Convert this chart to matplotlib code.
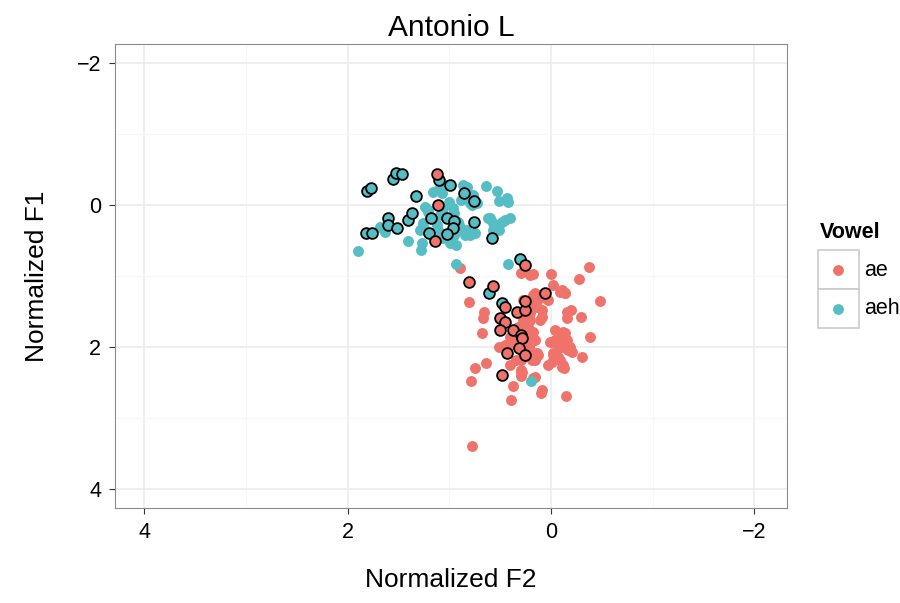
import numpy as np
import matplotlib
matplotlib.use("Agg")
import matplotlib.pyplot as plt
from matplotlib.lines import Line2D
from matplotlib.patches import Rectangle

plt.rcParams["font.family"] = ["Liberation Sans", "DejaVu Sans"]

# vowel tokens, normalized formants (F2, F1)
ae_f2 = [0.90, 0.30, 0.21, 0.81, 0.66, 0.67, 0.28, 0.18, 0.00, -0.37, -0.27, -0.02,
         -0.11, -0.14, 0.16, 0.11, 0.03, 0.18, -0.48, -0.16, -0.20, -0.16, -0.29, 0.09,
         0.68, 0.51, 0.75, 0.64, 0.79, 0.30, 0.30, 0.16, 0.38, 0.39, 0.10, -0.15,
         -0.04, -0.12, -0.38, 0.01, -0.04, -0.16, -0.19, -0.09, -0.21, -0.02, -0.01,
         -0.09, -0.12, 0.03, -0.30, 0.19, 0.21, 0.30, 0.09, 0.78, 0.21, 0.23, 0.16,
         0.26, 0.35, 0.13, 0.40, 0.45, 0.11, -0.13,
         0.18, 0.14, 0.21, 0.28, 0.23, 0.18, 0.24, 0.21, 0.35, 0.40, 0.40, 0.28,
         0.14, 0.16, 0.30, 0.29, 0.18, 0.09, 0.33, 0.30, -0.09, -0.14, -0.01, -0.06,
         -0.11, -0.17, -0.02, -0.07, -0.11, -0.09, -0.14]
ae_f1 = [0.89, 0.96, 0.99, 1.37, 1.51, 1.59, 1.34, 0.97, 0.97, 0.87, 1.04, 1.13,
         1.20, 1.24, 1.24, 1.31, 1.34, 1.38, 1.35, 1.51, 1.48, 1.59, 1.58, 1.58,
         1.81, 2.00, 2.30, 2.23, 2.48, 2.36, 2.41, 2.43, 2.55, 2.75, 2.65, 2.69,
         1.76, 1.79, 1.86, 1.93, 1.90, 1.90, 2.00, 2.00, 2.07, 2.09, 2.21,
         2.19, 2.26, 2.26, 2.14, 2.19, 2.05, 2.33, 2.60, 3.40, 1.62, 1.76, 1.90,
         1.97, 2.19, 2.12, 2.26, 1.97, 1.62, 2.30,
         1.27, 1.44, 1.52, 1.62, 1.72, 1.79, 1.86, 1.95, 1.88, 1.86, 1.97, 2.09,
         2.09, 2.19, 2.19, 2.36, 2.44, 1.48, 1.72, 1.52, 1.83, 1.81, 1.93, 1.95,
         2.00, 2.05, 2.12, 2.14, 2.28, 1.23, 1.24]

aeh_f2 = [1.90, 1.68, 1.63, 1.41, 1.28, 1.16, 1.11, 1.24, 1.21, 1.26, 1.24, 1.12,
          1.11, 1.06, 1.04, 1.00, 0.97, 0.96, 0.83, 0.77, 0.73, 0.78, 0.64, 0.53,
          0.51, 0.43, 0.42, 0.62, 0.57, 0.48, 0.40, 0.51, 0.83, 0.80, 0.75, 0.85,
          0.96, 0.94, 0.94, 0.42, 0.20, 0.89, 1.09, 0.91,
          1.07, 0.87, 0.80, 1.21, 1.07, 1.29, 1.12, 1.06, 0.99, 0.87, 0.60, 0.45,
          0.57, 0.92, 1.27]
aeh_f1 = [0.65, 0.31, 0.38, 0.51, 0.63, -0.18, -0.21, 0.03, 0.07, 0.25, 0.35, 0.28,
          0.35, 0.04, -0.28, -0.04, 0.04, 0.11, -0.25, -0.14, -0.03, 0.00, -0.27, -0.20,
          -0.06, -0.10, -0.04, 0.18, 0.25, 0.24, 0.18, 0.35, 0.35, 0.42, 0.39, 0.42,
          0.42, 0.56, 0.83, 0.83, 2.48, -0.07, 0.14, 0.28,
          -0.17, -0.28, -0.03, 0.10, 0.11, 0.35, 0.42, 0.47, 0.54, 0.35, 0.18, 0.21,
          0.35, 0.24, 0.54]

# highlighted tokens (black outline)
ae_mark_f2 = [1.12, 1.11, 1.14, 0.26, 0.81, 0.57, 0.45, 0.34, 0.26, 0.06, 0.50,
              0.45, 0.50, 0.38, 0.30, 0.29, 0.43, 0.32, 0.26, 0.26, 0.48]
ae_mark_f1 = [-0.44, 0.00, 0.51, 0.85, 1.09, 1.14, 1.44, 1.51, 1.48, 1.24, 1.59,
              1.65, 1.76, 1.76, 1.83, 1.88, 2.09, 2.02, 2.12, 1.35, 2.40]

aeh_mark_f2 = [1.81, 1.77, 1.56, 1.53, 1.47, 1.33, 1.10, 0.99, 0.86, 0.76, 1.60,
               1.60, 1.52, 1.82, 1.76, 1.41, 1.37, 1.18, 1.20, 1.02, 0.96, 0.97,
               1.02, 0.76, 0.58, 0.31, 0.61, 0.48]
aeh_mark_f1 = [-0.20, -0.24, -0.37, -0.45, -0.44, -0.13, -0.35, -0.28, -0.17, -0.06, 0.18,
               0.28, 0.32, 0.39, 0.39, 0.21, 0.11, 0.18, 0.39, 0.18, 0.23, 0.32,
               0.41, 0.24, 0.47, 0.76, 1.24, 1.38]

vowels = ["ae", "aeh"]
colors = {"ae": "#F0736B", "aeh": "#55BEC4"}

fig = plt.figure(figsize=(9, 6.03), dpi=100)
ax = fig.add_axes([115 / 900, 95 / 603, 672 / 900, 464 / 603])

ax.scatter(ae_f2, ae_f1, s=62, c=colors["ae"], linewidths=0, zorder=3)
ax.scatter(aeh_f2, aeh_f1, s=62, c=colors["aeh"], linewidths=0, zorder=3)
ax.scatter(aeh_mark_f2, aeh_mark_f1, s=60, c=colors["aeh"], edgecolors="black",
           linewidths=1.3, zorder=4)
ax.scatter(ae_mark_f2, ae_mark_f1, s=60, c=colors["ae"], edgecolors="black",
           linewidths=1.3, zorder=4)

ax.set_xlim(4.29, -2.32)
ax.set_ylim(4.27, -2.27)
ax.set_xticks([4, 2, 0, -2])
ax.set_xticklabels(["4", "2", "0", "\u22122"])
ax.set_yticks([-2, 0, 2, 4])
ax.set_yticklabels(["\u22122", "0", "2", "4"])
ax.set_xticks([3, 1, -1], minor=True)
ax.set_yticks([3, 1, -1], minor=True)
ax.grid(which="major", color="#EBEBEB", lw=1.1, zorder=0)
ax.grid(which="minor", color="#F7F7F7", lw=0.8, zorder=0)
ax.tick_params(which="major", length=4, width=0.8, color="#333333",
               labelsize=15.5, labelcolor="black", pad=6)
ax.tick_params(which="minor", length=0)
for sp in ax.spines.values():
    sp.set_color("#8C8C8C")
    sp.set_linewidth(0.8)

ax.set_title("Antonio L", fontsize=21.5, pad=6)
ax.set_xlabel("Normalized F2", fontsize=19, labelpad=18)
ax.set_ylabel("Normalized F1", fontsize=19, labelpad=20)

# legend drawn by hand, ggplot style
fig.text(820 / 900, 1 - 233 / 603, "Vowel", fontsize=15.5, fontweight="bold",
         ha="left", va="center")
for i, v in enumerate(vowels):
    top = 250 + 39 * i
    fig.add_artist(Rectangle((818 / 900, 1 - (top + 39) / 603), 41 / 900, 39 / 603,
                             transform=fig.transFigure, facecolor="white",
                             edgecolor="#CCCCCC", lw=1.2))
    fig.add_artist(Line2D([838 / 900], [1 - (top + 20) / 603], marker="o",
                          markersize=7.8, color=colors[v], markeredgewidth=0,
                          transform=fig.transFigure))
    fig.text(864 / 900, 1 - (top + 20) / 603, v, fontsize=15.5, ha="left", va="center")

fig.savefig("out.png", dpi=100)
